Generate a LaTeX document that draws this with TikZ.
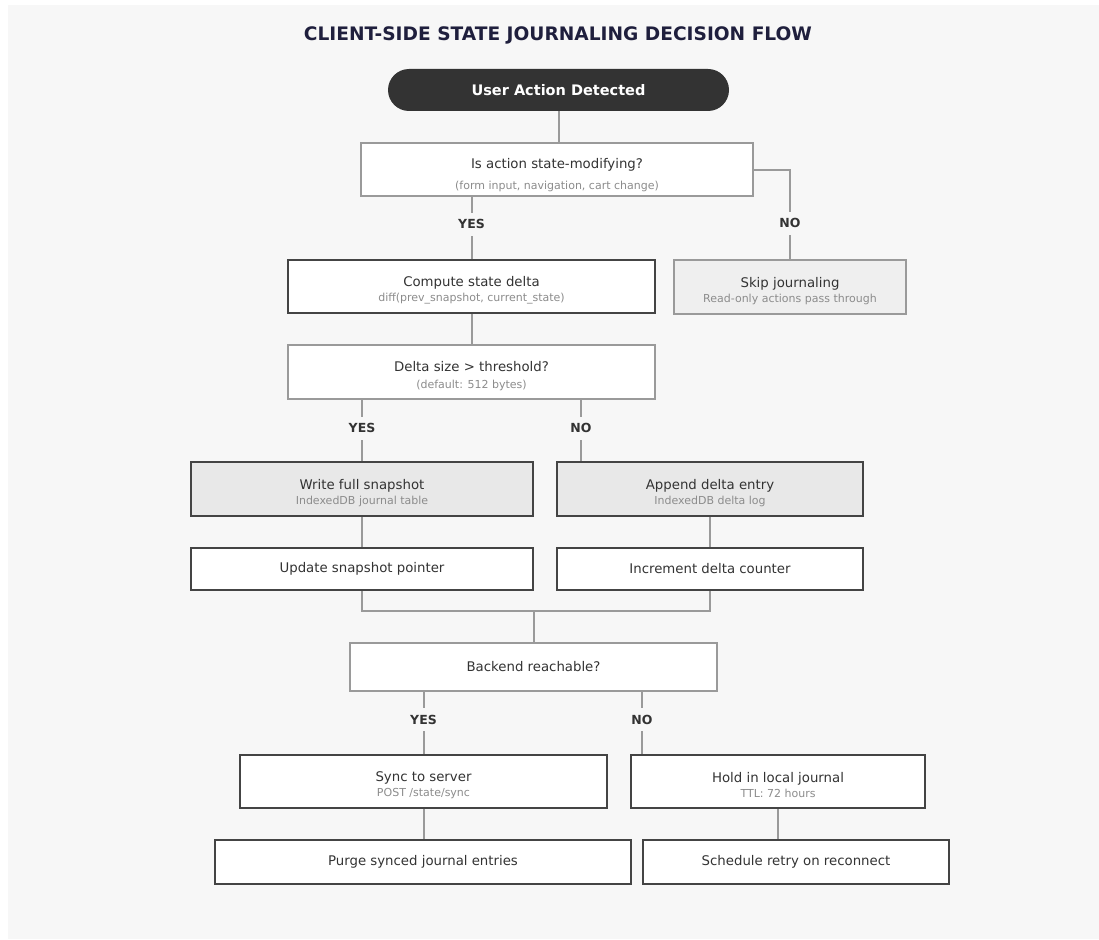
\documentclass[tikz,border=0pt]{standalone}
\usepackage{fontspec}
\setmainfont{DejaVu Sans}
\usepackage{xcolor}
\usepackage{tikz}
\definecolor{bgcol}{HTML}{F7F7F7}
\definecolor{titlecol}{HTML}{1F1F3D}
\definecolor{maincol}{HTML}{333333}
\definecolor{subcol}{HTML}{8C8C8C}
\definecolor{linecol}{HTML}{9A9A9A}
\definecolor{darkcol}{HTML}{444444}
\definecolor{shadecol}{HTML}{E8E8E8}
\definecolor{skipcol}{HTML}{EFEFEF}
\newcommand{\subline}[1]{{\fontsize{11}{12}\selectfont\color{subcol}#1}}
\newcommand{\topline}[2][18pt]{\rule{0pt}{#1}#2}

\begin{document}
\begin{tikzpicture}[x=1pt, y=-1pt, every node/.style={font=\fontsize{13.3}{15}\selectfont, text=maincol, align=center, inner sep=0pt},%
        conn/.style={draw=linecol, line width=2pt}, lbl/.style={fill=bgcol, font=\fontsize{12.5}{14}\selectfont\bfseries, text height=9pt, text depth=0pt, inner xsep=3pt, inner ysep=7pt},%
        decision/.style={draw=linecol, line width=2pt, fill=white}, process/.style={draw=darkcol, line width=2pt, fill=white},%
        stored/.style={process, fill=shadecol}, skipped/.style={decision, fill=skipcol}]
        \useasboundingbox (0,0) rectangle (1099,939);
        \fill[bgcol] (8,5) rectangle (1099,939);
        \node[font=\fontsize{18.6}{20}\selectfont\bfseries, text=titlecol] (title) at (558,35) {CLIENT-SIDE STATE JOURNALING DECISION FLOW};
        \node[fill=maincol, rounded corners=21pt, minimum width=341pt, minimum height=42pt, text=white, font=\fontsize{14.5}{16}\selectfont\bfseries] (start) at (558.5,90) {User Action Detected};
        \node[decision, minimum width=392pt, minimum height=53pt] (modify) at (557,169.5) {\topline[21pt]{Is action state-modifying?}\\[6pt]\subline{(form input, navigation, cart change)}};
        \node[process, minimum width=367pt, minimum height=53pt] (compute) at (471.5,286.5) {\topline{Compute state delta}\\\subline{diff(prev\_snapshot, current\_state)}};
        \node[skipped, minimum width=232pt, minimum height=54pt] (skip) at (790,287) {\topline{Skip journaling}\\\subline{Read-only actions pass through}};
        \node[decision, minimum width=367pt, minimum height=54pt] (delta) at (471.5,372) {\topline{Delta size > threshold?}\\[2pt]\subline{(default: 512 bytes)}};
        \node[stored, minimum width=342pt, minimum height=54pt] (snapshot) at (362,489) {\topline{Write full snapshot}\\\subline{IndexedDB journal table}};
        \node[stored, minimum width=306pt, minimum height=54pt] (append) at (710,489) {\topline{Append delta entry}\\\subline{IndexedDB delta log}};
        \node[process, minimum width=342pt, minimum height=42pt] (update) at (362,569) {Update snapshot pointer};
        \node[process, minimum width=306pt, minimum height=42pt] (increment) at (710,569) {Increment delta counter};
        \node[decision, minimum width=367pt, minimum height=48pt] (backend) at (533.5,667) {Backend reachable?};
        \node[process, minimum width=367pt, minimum height=53pt] (sync) at (423.5,781.5) {\topline{Sync to server}\\\subline{POST /state/sync}};
        \node[process, minimum width=294pt, minimum height=53pt] (hold) at (778,781.5) {\topline{Hold in local journal}\\\subline{TTL: 72 hours}};
        \node[process, minimum width=416pt, minimum height=44pt] (purge) at (423,862) {Purge synced journal entries};
        \node[process, minimum width=306pt, minimum height=44pt] (schedule) at (796,862) {Schedule retry on reconnect};
        \coordinate (appendin) at ([xshift=25pt]append.north west);
        \coordinate (holdin) at ([xshift=12pt]hold.north west);
        \coordinate (merge) at (533.5,611);
        \draw[conn] (start.south) -- (start.south |- modify.north);
        \draw[conn] (modify.south -| compute.north) -- node[lbl, pos=0.44] {YES} (compute.north);
        \draw[conn] (modify.east) -| node[lbl, pos=0.8] {NO} (skip.north);
        \draw[conn] (compute) -- (delta);
        \draw[conn] (delta.south -| snapshot.north) -- node[lbl, pos=0.46] {YES} (snapshot.north);
        \draw[conn] (appendin |- delta.south) -- node[lbl, pos=0.46] {NO} (appendin);
        \draw[conn] (snapshot) -- (update);
        \draw[conn] (append) -- (increment);
        \draw[conn] (update.south) |- (merge) -| (increment.south);
        \draw[conn] (merge) -- (backend.north);
        \draw[conn] (backend.south -| sync.north) -- node[lbl, pos=0.45] {YES} (sync.north);
        \draw[conn] (holdin |- backend.south) -- node[lbl, pos=0.45] {NO} (holdin);
        \draw[conn] (sync.south) -- (sync.south |- purge.north);
        \draw[conn] (hold.south) -- (hold.south |- schedule.north);
\end{tikzpicture}
\end{document}
